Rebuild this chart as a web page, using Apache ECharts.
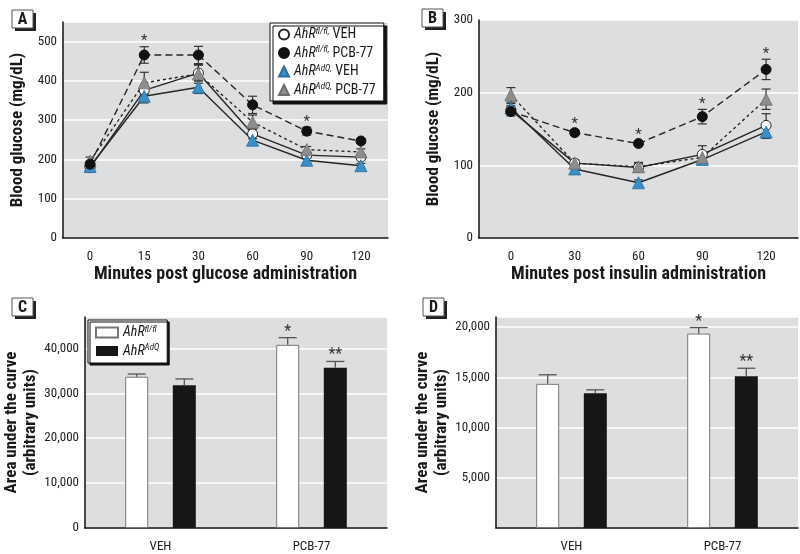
<!DOCTYPE html>
<html><head><meta charset="utf-8">
<script src="https://cdn.jsdelivr.net/npm/echarts/dist/echarts.min.js"></script>
<style>html,body{margin:0;padding:0;background:#fff}#c{width:800px;height:554px}</style>
</head><body><div id="c"></div><script>
// ---- data ----
const glucoseTimes = ['0', '15', '30', '60', '90', '120'];
const gttFlVeh = [179, 376, 420, 265, 211, 206];
const gttFlVehErr = [6, 12, 20, 12, 8, 7];
const gttFlPcb = [188, 466, 466, 339, 272, 247];
const gttFlPcbErr = [8, 21, 22, 22, 10, 6];
const gttAdqVeh = [182, 361, 384, 249, 198, 184];
const gttAdqVehErr = [6, 17, 16, 10, 8, 6];
const gttAdqPcb = [196, 395, 418, 295, 225, 219];
const gttAdqPcbErr = [10, 27, 24, 18, 8, 8];
const gttSig = ['', '*', '', '', '*', ''];

const insulinTimes = ['0', '30', '60', '90', '120'];
const ittFlVeh = [176, 103, 97, 115, 155];
const ittFlVehErr = [6, 5, 6, 12, 16];
const ittFlPcb = [174, 145, 130, 167, 232];
const ittFlPcbErr = [6, 4, 4, 10, 14];
const ittAdqVeh = [179, 95, 76, 108, 146];
const ittAdqVehErr = [6, 5, 4, 5, 9];
const ittAdqPcb = [197, 103, 98, 111, 191];
const ittAdqPcbErr = [10, 4, 6, 5, 14];
const ittSig = ['', '*', '*', '*', '*'];

const aucGroups = ['VEH', 'PCB-77'];
const gttAucFl = [33700, 40800];
const gttAucFlErr = [600, 1600];
const gttAucAdq = [31800, 35700];
const gttAucAdqErr = [1400, 1400];
const ittAucFl = [14350, 19350];
const ittAucFlErr = [900, 600];
const ittAucAdq = [13400, 15100];
const ittAucAdqErr = [350, 800];
const aucSigFl = ['', '*'];
const aucSigAdq = ['', '**'];

const seriesNames = ['AhR fl/fl, VEH', 'AhR fl/fl, PCB-77', 'AhR AdQ, VEH', 'AhR AdQ, PCB-77'];
const barNames = ['AhR fl/fl', 'AhR AdQ'];
const panelLetters = ['A', 'B', 'C', 'D'];
const xTitles = ['Minutes post glucose administration', 'Minutes post insulin administration'];
const yTitleGlucose = 'Blood glucose (mg/dL)';
const yTitleAuc = 'Area under the curve\n(arbitrary units)';

// ---- styles ----
const FONT = '"Liberation Sans Narrow", "Roboto Condensed", "Arial Narrow", "Liberation Sans", sans-serif';
const BG = '#dcdedf';
const INK = '#1a1a1a';

function richName(name) {
  const m = name.match(/^AhR (\S+)(.*)$/);
  return '{i|AhR}{s|' + m[1] + '}{n|' + m[2] + '}';
}
const richStyles = {
  i: {fontStyle: 'italic', fontSize: 14, fontFamily: FONT, color: INK, lineHeight: 15},
  s: {fontStyle: 'italic', fontSize: 9, fontFamily: FONT, color: INK, verticalAlign: 'top', lineHeight: 9},
  n: {fontSize: 14, fontFamily: FONT, color: INK, lineHeight: 15}
};

function axisLineStyle() { return {show: true, lineStyle: {color: '#111', width: 1.5}}; }

function xCat(grid, data, name) {
  return {
    gridIndex: grid, type: 'category', data: data,
    axisTick: {show: false}, axisLine: axisLineStyle(),
    axisLabel: {fontSize: 13, color: '#222', margin: 12, fontFamily: FONT},
    name: name || '', nameLocation: 'middle', nameGap: 27,
    nameTextStyle: {fontSize: 18, fontWeight: 'bold', fontFamily: FONT, color: INK}
  };
}
function yVal(grid, max, interval, name, gap, opts) {
  opts = opts || {};
  return {
    gridIndex: grid, type: 'value', min: 0, max: max, interval: interval,
    axisLine: axisLineStyle(), axisTick: {show: false},
    splitLine: {show: true, lineStyle: {color: '#ffffff', width: 1.5}},
    axisLabel: {fontSize: 13, color: '#222', margin: 6, fontFamily: FONT,
      showMaxLabel: opts.showMax ? true : false,
      showMinLabel: opts.hideMin ? false : true,
      formatter: v => v.toLocaleString('en-US')},
    name: name, nameLocation: 'middle', nameGap: gap,
    nameTextStyle: {fontSize: 17, fontWeight: 'bold', fontFamily: FONT, color: INK, lineHeight: 19}
  };
}

const lineStyles = [
  {sym: 'circle', size: 10, item: {color: '#ffffff', borderColor: '#222', borderWidth: 1}, dash: 'solid'},
  {sym: 'circle', size: 10, item: {color: '#111111', borderColor: '#111', borderWidth: 1}, dash: [7, 4]},
  {sym: 'triangle', size: 12, item: {color: '#3b8fc7', borderColor: '#2b6f9c', borderWidth: 0.8}, dash: 'solid'},
  {sym: 'triangle', size: 12, item: {color: '#8d8d8d', borderColor: '#6e6e6e', borderWidth: 0.8}, dash: [3, 3]}
];

function lineSeries(axis, idx, values) {
  const st = lineStyles[idx];
  return {
    type: 'line', name: seriesNames[idx], xAxisIndex: axis, yAxisIndex: axis,
    data: values, symbol: st.sym, symbolSize: st.size, showSymbol: true, z: 3 + (idx === 1 ? 1 : 0),
    itemStyle: st.item,
    lineStyle: {color: '#262626', width: 1.4, type: st.dash},
    emphasis: {disabled: true}
  };
}

function lineErr(axis, means, errs, sig) {
  return {
    type: 'custom', xAxisIndex: axis, yAxisIndex: axis, z: 2, silent: true,
    data: means.map((m, i) => [i, m - errs[i], m + errs[i]]),
    encode: {x: 0, y: [1, 2]},
    renderItem: function (params, api) {
      const i = params.dataIndex;
      const lo = api.coord([api.value(0), api.value(1)]);
      const hi = api.coord([api.value(0), api.value(2)]);
      const hw = 4.5;
      const ls = {stroke: '#333', lineWidth: 1.2};
      const ch = [
        {type: 'line', shape: {x1: lo[0], y1: lo[1], x2: hi[0], y2: hi[1]}, style: ls},
        {type: 'line', shape: {x1: lo[0] - hw, y1: lo[1], x2: lo[0] + hw, y2: lo[1]}, style: ls},
        {type: 'line', shape: {x1: hi[0] - hw, y1: hi[1], x2: hi[0] + hw, y2: hi[1]}, style: ls}
      ];
      if (sig && sig[i]) {
        ch.push({type: 'text', x: hi[0], y: hi[1] - 5,
          style: {text: sig[i], align: 'center', verticalAlign: 'middle', fontSize: 15, fontFamily: FONT, fill: '#333'}});
      }
      return {type: 'group', children: ch};
    }
  };
}

const BAR_W = 23, BAR_GAP = 1.07;
function barSeries(axis, idx, values) {
  return {
    type: 'bar', name: barNames[idx], xAxisIndex: axis, yAxisIndex: axis, data: values,
    barWidth: BAR_W, barGap: (BAR_GAP * 100) + '%', z: 2,
    itemStyle: idx === 0 ? {color: '#ffffff', borderColor: '#777', borderWidth: 1} : {color: '#161616', borderColor: '#161616', borderWidth: 0},
    emphasis: {disabled: true}
  };
}
function barErr(axis, idx, means, errs, sig) {
  const off = (idx === 0 ? -1 : 1) * BAR_W * (1 + BAR_GAP) / 2;
  return {
    type: 'custom', xAxisIndex: axis, yAxisIndex: axis, z: 3, silent: true,
    data: means.map((m, i) => [i, m, m + errs[i]]),
    encode: {x: 0, y: [1, 2]},
    renderItem: function (params, api) {
      const i = params.dataIndex;
      const lo = api.coord([api.value(0), api.value(1)]);
      const hi = api.coord([api.value(0), api.value(2)]);
      const x = lo[0] + off;
      const hw = 9;
      const ls = {stroke: '#555', lineWidth: 1.3};
      const ch = [
        {type: 'line', shape: {x1: x, y1: lo[1], x2: x, y2: hi[1]}, style: ls},
        {type: 'line', shape: {x1: x - hw, y1: hi[1], x2: x + hw, y2: hi[1]}, style: ls}
      ];
      if (sig && sig[i]) {
        ch.push({type: 'text', x: x, y: hi[1] - 6,
          style: {text: sig[i], align: 'center', verticalAlign: 'middle', fontSize: 16, fontFamily: FONT, fill: '#333'}});
      }
      return {type: 'group', children: ch};
    }
  };
}

const panelPos = [[12, 10], [422, 9], [12, 298], [423, 298]];
const graphics = panelLetters.map((L, k) => ({
  type: 'group', x: panelPos[k][0], y: panelPos[k][1],
  children: [
    {type: 'rect', shape: {x: 3, y: 3, width: 21, height: 18}, style: {fill: '#222'}},
    {type: 'rect', shape: {x: 0, y: 0, width: 21, height: 18}, style: {fill: '#fff', stroke: '#555', lineWidth: 1}},
    {type: 'text', x: 10.5, y: 9.5, style: {text: L, align: 'center', verticalAlign: 'middle', fontSize: 16, fontWeight: 'bold', fontFamily: FONT, fill: INK}}
  ]
}));

const gridBase = {show: true, backgroundColor: BG, borderWidth: 0, containLabel: false, outerBoundsMode: 'none'};

const option = {
  animation: false,
  backgroundColor: '#fff',
  textStyle: {fontFamily: FONT},
  grid: [
    Object.assign({left: 63, top: 22, width: 325, height: 216}, gridBase),
    Object.assign({left: 479, top: 20, width: 319, height: 218}, gridBase),
    Object.assign({left: 85, top: 317, width: 302, height: 211}, gridBase),
    Object.assign({left: 496, top: 317, width: 302, height: 211}, gridBase)
  ],
  xAxis: [
    xCat(0, glucoseTimes, xTitles[0]),
    xCat(1, insulinTimes, xTitles[1]),
    xCat(2, aucGroups, ''),
    xCat(3, aucGroups, '')
  ],
  yAxis: [
    yVal(0, 550, 100, yTitleGlucose, 36),
    yVal(1, 300, 100, yTitleGlucose, 36, {showMax: true}),
    yVal(2, 47000, 10000, yTitleAuc, 44),
    yVal(3, 21000, 5000, yTitleAuc, 44, {hideMin: true})
  ],
  legend: [
    {
      orient: 'vertical', left: 270, top: 23, itemWidth: 10, itemHeight: 10, itemGap: 4,
      padding: [4, 8, 4, 8], backgroundColor: '#fff', borderColor: '#111', borderWidth: 1,
      shadowColor: '#111', shadowOffsetX: 3, shadowOffsetY: 3, shadowBlur: 0,
      selectedMode: false,
      data: [
        {name: seriesNames[0], icon: 'circle'},
        {name: seriesNames[1], icon: 'circle'},
        {name: seriesNames[2], icon: 'triangle'},
        {name: seriesNames[3], icon: 'triangle'}
      ],
      formatter: richName, textStyle: {rich: richStyles}
    },
    {
      orient: 'vertical', left: 88, top: 320, itemWidth: 22, itemHeight: 10, itemGap: 4,
      padding: [5, 8, 5, 7], backgroundColor: '#fff', borderColor: '#111', borderWidth: 1,
      shadowColor: '#111', shadowOffsetX: 2, shadowOffsetY: 2, shadowBlur: 0,
      selectedMode: false,
      data: [{name: barNames[0], icon: 'rect'}, {name: barNames[1], icon: 'rect'}],
      formatter: richName, textStyle: {rich: richStyles}
    }
  ],
  graphic: graphics,
  series: [
    lineErr(0, gttFlVeh, gttFlVehErr),
    lineErr(0, gttAdqVeh, gttAdqVehErr),
    lineErr(0, gttAdqPcb, gttAdqPcbErr),
    lineErr(0, gttFlPcb, gttFlPcbErr, gttSig),
    lineSeries(0, 0, gttFlVeh),
    lineSeries(0, 1, gttFlPcb),
    lineSeries(0, 2, gttAdqVeh),
    lineSeries(0, 3, gttAdqPcb),
    lineErr(1, ittFlVeh, ittFlVehErr),
    lineErr(1, ittAdqVeh, ittAdqVehErr),
    lineErr(1, ittAdqPcb, ittAdqPcbErr),
    lineErr(1, ittFlPcb, ittFlPcbErr, ittSig),
    lineSeries(1, 0, ittFlVeh),
    lineSeries(1, 1, ittFlPcb),
    lineSeries(1, 2, ittAdqVeh),
    lineSeries(1, 3, ittAdqPcb),
    barSeries(2, 0, gttAucFl),
    barSeries(2, 1, gttAucAdq),
    barErr(2, 0, gttAucFl, gttAucFlErr, aucSigFl),
    barErr(2, 1, gttAucAdq, gttAucAdqErr, aucSigAdq),
    barSeries(3, 0, ittAucFl),
    barSeries(3, 1, ittAucAdq),
    barErr(3, 0, ittAucFl, ittAucFlErr, aucSigFl),
    barErr(3, 1, ittAucAdq, ittAucAdqErr, aucSigAdq)
  ]
};
const chart = echarts.init(document.getElementById('c'), null, {renderer: 'canvas'});
chart.setOption(option);
</script></body></html>
